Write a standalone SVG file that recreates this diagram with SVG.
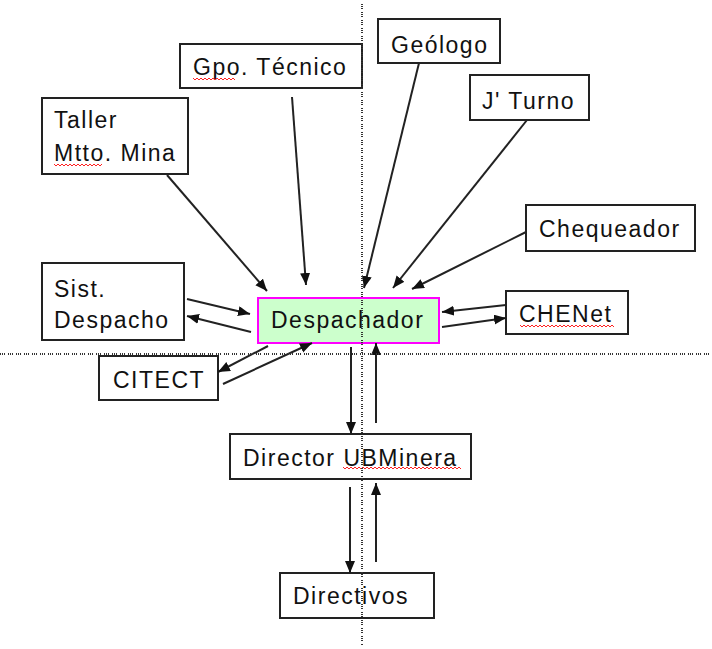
<svg xmlns="http://www.w3.org/2000/svg" width="712" height="649" viewBox="0 0 712 649">
<style>
.box{fill:#ffffff;stroke:#222;stroke-width:2}
.hl{fill:#ccffcc;stroke:#ff00ff;stroke-width:2}
text{font-family:"Liberation Sans",Arial,sans-serif;font-size:23px;letter-spacing:1.5px;fill:#111}
.c{stroke:#222;stroke-width:2;fill:none;marker-end:url(#ah)}
.dot{stroke:#333;stroke-width:2;fill:none;stroke-dasharray:1 1 1 1 1 3}
.sp{stroke:#ff2020;stroke-width:1;fill:none}
</style>
<defs>
<marker id="ah" markerUnits="userSpaceOnUse" markerWidth="14" markerHeight="12" refX="12" refY="5" orient="auto">
<path d="M0,0 L12,5 L0,10 Z" fill="#111"/>
</marker>
</defs>
<rect width="712" height="649" fill="#ffffff"/>

<g id="n-gpo"><rect class="box" x="180" y="44" width="182" height="44"/><text x="193" y="75">Gpo. Técnico</text><path class="sp" d="M193,78 l2,2 l2,-2 l2,2 l2,-2 l2,2 l2,-2 l2,2 l2,-2 l2,2 l2,-2 l2,2 l2,-2 l2,2 l2,-2 l2,2 l2,-2 l2,2 l2,-2 l2,2 l2,-2 l2,2"/></g>
<g id="n-taller"><rect class="box" x="42" y="98" width="146" height="76"/><text x="54" y="128">Taller</text><text x="54" y="161">Mtto. Mina</text><path class="sp" d="M54,164 l2,2 l2,-2 l2,2 l2,-2 l2,2 l2,-2 l2,2 l2,-2 l2,2 l2,-2 l2,2 l2,-2 l2,2 l2,-2 l2,2 l2,-2 l2,2 l2,-2 l2,2 l2,-2 l2,2 l2,-2 l2,2 l2,-2"/></g>
<g id="n-geologo"><rect class="box" x="378" y="19" width="122" height="44"/><text x="391" y="53">Geólogo</text></g>
<g id="n-jturno"><rect class="box" x="470" y="75" width="119" height="45"/><text x="482" y="109">J' Turno</text></g>
<g id="n-chequeador"><rect class="box" x="526" y="205" width="169" height="46"/><text x="539" y="237">Chequeador</text></g>
<g id="n-chenet"><rect class="box" x="506" y="291" width="122" height="43"/><text x="519" y="322">CHENet</text><path class="sp" d="M520,325 l2,2 l2,-2 l2,2 l2,-2 l2,2 l2,-2 l2,2 l2,-2 l2,2 l2,-2 l2,2 l2,-2 l2,2 l2,-2 l2,2 l2,-2 l2,2 l2,-2 l2,2 l2,-2 l2,2 l2,-2 l2,2 l2,-2 l2,2 l2,-2 l2,2 l2,-2 l2,2 l2,-2 l2,2 l2,-2 l2,2 l2,-2 l2,2 l2,-2 l2,2 l2,-2 l2,2 l2,-2 l2,2 l2,-2 l2,2 l2,-2 l2,2 l2,-2 l2,2"/></g>
<g id="n-despachador"><rect class="hl" x="258" y="298" width="181" height="45"/><text x="271" y="328">Despachador</text></g>
<g id="n-sist"><rect class="box" x="42" y="263" width="142" height="77"/><text x="54" y="297">Sist.</text><text x="54" y="328">Despacho</text></g>
<g id="n-citect"><rect class="box" x="99" y="356" width="119" height="44"/><text x="113" y="388">CITECT</text></g>
<g id="n-director"><rect class="box" x="230" y="434" width="241" height="45"/><text x="243" y="466">Director UBMinera</text><path class="sp" d="M343,467 l2,2 l2,-2 l2,2 l2,-2 l2,2 l2,-2 l2,2 l2,-2 l2,2 l2,-2 l2,2 l2,-2 l2,2 l2,-2 l2,2 l2,-2 l2,2 l2,-2 l2,2 l2,-2 l2,2 l2,-2 l2,2 l2,-2 l2,2 l2,-2 l2,2 l2,-2 l2,2 l2,-2 l2,2 l2,-2 l2,2 l2,-2 l2,2 l2,-2 l2,2 l2,-2 l2,2 l2,-2 l2,2 l2,-2 l2,2 l2,-2 l2,2 l2,-2 l2,2 l2,-2 l2,2 l2,-2 l2,2 l2,-2 l2,2 l2,-2 l2,2 l2,-2 l2,2 l2,-2 l2,2"/></g>
<g id="n-directivos"><rect class="box" x="280" y="573" width="154" height="45"/><text x="293" y="604">Directivos</text></g>

<g id="connectors">
<line class="c" x1="167" y1="175" x2="267" y2="291"/>
<line class="c" x1="292" y1="97" x2="306" y2="285"/>
<line class="c" x1="419" y1="63" x2="364" y2="288"/>
<line class="c" x1="527" y1="120" x2="393" y2="288"/>
<line class="c" x1="526" y1="232" x2="412" y2="289"/>
<line class="c" x1="506" y1="305" x2="442" y2="312"/>
<line class="c" x1="442" y1="327" x2="506" y2="318"/>
<line class="c" x1="187" y1="299" x2="250" y2="314"/>
<line class="c" x1="251" y1="332" x2="187" y2="316"/>
<line class="c" x1="268" y1="346" x2="218" y2="372"/>
<line class="c" x1="223" y1="384" x2="312" y2="343"/>
<line class="c" x1="351" y1="347" x2="351" y2="434"/>
<line class="c" x1="376" y1="423" x2="376" y2="343"/>
<line class="c" x1="350" y1="487" x2="350" y2="573"/>
<line class="c" x1="376" y1="562" x2="376" y2="483"/>
</g>

<g id="guides">
<line class="dot" x1="0" y1="354" x2="712" y2="354"/>
<line class="dot" x1="362" y1="4" x2="362" y2="646"/>
</g>
</svg>
